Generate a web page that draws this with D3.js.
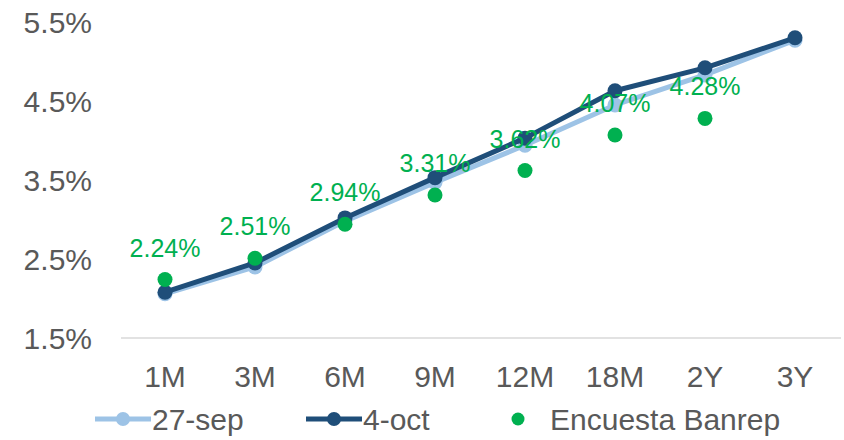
<!DOCTYPE html>
<html>
<head>
<meta charset="utf-8">
<script src="https://cdn.jsdelivr.net/npm/d3@7"></script>
<style>
  body { margin: 0; background: #fff; }
  text { font-family: "Liberation Sans", Arial, sans-serif; }
</style>
</head>
<body>
<div id="chart"></div>
<script>
// data
var plazos = ["1M", "3M", "6M", "9M", "12M", "18M", "2Y", "3Y"];
var sep27 = [2.06, 2.40, 2.98, 3.47, 3.94, 4.45, 4.83, 5.27];
var oct4 = [2.08, 2.45, 3.02, 3.53, 4.03, 4.63, 4.92, 5.30];
var encuesta = [2.24, 2.51, 2.94, 3.31, 3.62, 4.07, 4.28, null];
var yTicks = [1.5, 2.5, 3.5, 4.5, 5.5];

var W = 844, H = 440;
var margin = { top: 22, right: 4, bottom: 102, left: 120 };

var svg = d3.select("#chart")
  .append("svg")
  .attr("width", W)
  .attr("height", H);

var x = d3.scaleBand()
  .domain(plazos)
  .range([margin.left, W - margin.right]);

var y = d3.scaleLinear()
  .domain([1.5, 5.5])
  .range([H - margin.bottom, margin.top]);

function cx(d, i) { return x(plazos[i]) + x.bandwidth() / 2; }

// y axis labels
var yAxis = svg.append("g")
  .attr("transform", "translate(" + (margin.left - 28) + ",0)")
  .call(d3.axisLeft(y).tickValues(yTicks).tickSize(0).tickPadding(0)
    .tickFormat(function (d) { return d.toFixed(1) + "%"; }));
yAxis.select(".domain").remove();
yAxis.selectAll("text")
  .attr("fill", "#595959")
  .style("font-size", "30px")
  .attr("dy", "0.36em");

// baseline
svg.append("line")
  .attr("x1", margin.left + 1).attr("x2", W - 3)
  .attr("y1", y(1.5)).attr("y2", y(1.5))
  .attr("stroke", "#d9d9d9")
  .attr("stroke-width", 1.5);

// x axis labels
var xAxis = svg.append("g")
  .attr("transform", "translate(0," + y(1.5) + ")")
  .call(d3.axisBottom(x).tickSize(0).tickPadding(0));
xAxis.select(".domain").remove();
xAxis.selectAll("text")
  .attr("fill", "#595959")
  .style("font-size", "30px")
  .attr("y", 49)
  .attr("dy", 0);

var line = d3.line()
  .x(cx)
  .y(function (d) { return y(d); });

function drawSeries(values, color) {
  svg.append("path")
    .datum(values)
    .attr("fill", "none")
    .attr("stroke", color)
    .attr("stroke-width", 5)
    .attr("stroke-linejoin", "round")
    .attr("d", line);
  svg.append("g").selectAll("circle")
    .data(values)
    .enter().append("circle")
    .attr("cx", cx)
    .attr("cy", function (d) { return y(d); })
    .attr("r", 7.5)
    .attr("fill", color);
}

drawSeries(sep27, "#9DC3E6");
drawSeries(oct4, "#1F4E79");

// encuesta dots
var enc = encuesta.map(function (v, i) { return { v: v, i: i }; })
  .filter(function (d) { return d.v !== null; });

svg.append("g").selectAll("circle")
  .data(enc)
  .enter().append("circle")
  .attr("cx", function (d) { return cx(d, d.i); })
  .attr("cy", function (d) { return y(d.v); })
  .attr("r", 7.5)
  .attr("fill", "#00B050");

svg.append("g").selectAll("text")
  .data(enc)
  .enter().append("text")
  .attr("x", function (d) { return cx(d, d.i); })
  .attr("y", function (d) { return y(d.v) - 23; })
  .attr("text-anchor", "middle")
  .attr("fill", "#00B050")
  .style("font-size", "25px")
  .text(function (d) { return d.v.toFixed(2) + "%"; });

// legend
var legend = svg.append("g").attr("transform", "translate(0,419)");
var items = [
  { name: "27-sep", color: "#9DC3E6", x: 95, type: "line" },
  { name: "4-oct", color: "#1F4E79", x: 306, type: "line" },
  { name: "Encuesta Banrep", color: "#00B050", x: 500, type: "dot" }
];
items.forEach(function (it) {
  if (it.type === "line") {
    legend.append("line")
      .attr("x1", it.x).attr("x2", it.x + 56)
      .attr("y1", 0).attr("y2", 0)
      .attr("stroke", it.color).attr("stroke-width", 5);
    legend.append("circle")
      .attr("cx", it.x + 28).attr("cy", 0).attr("r", 7)
      .attr("fill", it.color);
    legend.append("text")
      .attr("x", it.x + 57).attr("y", 11)
      .attr("fill", "#595959").style("font-size", "30px")
      .text(it.name);
  } else {
    legend.append("circle")
      .attr("cx", it.x + 18).attr("cy", 0).attr("r", 6.5)
      .attr("fill", it.color);
    legend.append("text")
      .attr("x", it.x + 50).attr("y", 11)
      .attr("fill", "#595959").style("font-size", "30px")
      .text(it.name);
  }
});
</script>
</body>
</html>
